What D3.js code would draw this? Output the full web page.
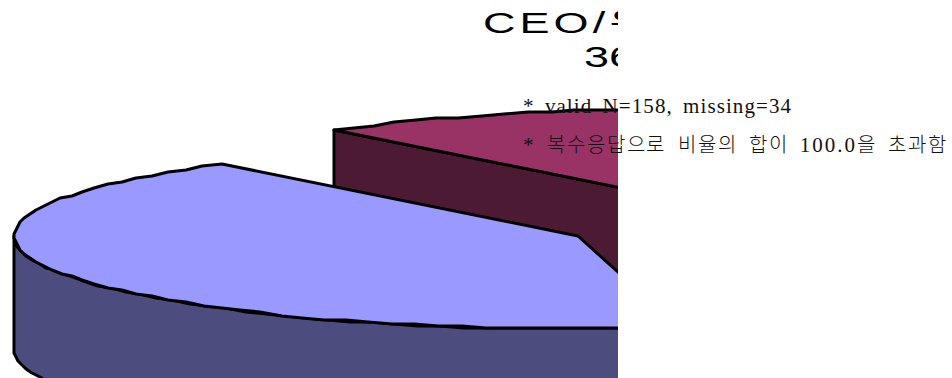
<!DOCTYPE html>
<html>
<head>
<meta charset="utf-8">
<script src="https://cdn.jsdelivr.net/npm/d3@7"></script>
<style>
html, body { margin: 0; padding: 0; background: #fff; }
svg { display: block; }
/* hangul runs a bit smaller than the latin next to them, as in the picture */
@font-face {
    font-family: "NoteHangul";
    src: local("Noto Sans CJK KR Light"), local("Noto Sans CJK KR");
    size-adjust: 95%;
    unicode-range: U+AC00-D7A3;
}
</style>
</head>
<body>
<svg id="chart" width="952" height="378"></svg>
<script>
// shares, the rest of the pie is cut away in the reference
var sliceNames = ["blue", "maroon"];
var sliceValues = [42.0, 20.0];
var sliceTop = ["#9999ff", "#993366"];
var sliceWall = ["#4c4c7f", "#4d1a33"];
var titleLines = ["CEO/위원회", "36.1%"];
var notes = ["* valid N=158, missing=34", "* 복수응답으로 비율의 합이 100.0을 초과함"];
var noteWidths = [268, 423];

var width = 952, height = 378, clipX = 618;
var rx = 564, ry = 93, depth = 113, grid = 2;
var centers = [[578, 236], [691, 202]];

var svg = d3.select("#chart");

svg.append("clipPath").attr("id", "crop")
    .append("rect").attr("width", clipX).attr("height", height);

var pie = d3.pie().sort(null)
    .startAngle(169.6 * Math.PI / 180)
    .endAngle((169.6 + 360) * Math.PI / 180)
    .value(function(d) { return d; });
var arcs = pie(sliceValues.concat([100 - d3.sum(sliceValues)]));

function rimPoint(a, c) {
    return [
        Math.round((c[0] + rx * Math.sin(a)) / grid) * grid,
        Math.round((c[1] - ry * Math.cos(a)) / grid) * grid
    ];
}

// rim between two angles, sampled coarse and snapped so it has the stepped look of the original
function rimPoints(a0, a1, c) {
    var n = Math.ceil((a1 - a0) / (2.5 * Math.PI / 180));
    return d3.range(n + 1).map(function(i) {
        return rimPoint(a0 + (a1 - a0) * i / n, c);
    });
}

function drop(p) {
    return [p[0], p[1] + depth];
}

var line = d3.line();
var pieGroup = svg.append("g").attr("clip-path", "url(#crop)");

function drawShape(g, pts, fill) {
    g.append("path")
        .attr("d", line(pts) + "Z")
        .attr("fill", fill)
        .attr("stroke", "#000")
        .attr("stroke-width", 3)
        .attr("stroke-linejoin", "round");
}

// back slice first, the blue one overlaps it
var maroon = pieGroup.append("g").attr("class", sliceNames[1]);
var maroonRim = rimPoints(arcs[1].startAngle, arcs[1].endAngle, centers[1]);
drawShape(maroon, [centers[1], maroonRim[0], drop(maroonRim[0]), drop(centers[1])], sliceWall[1]);
drawShape(maroon, [centers[1]].concat(maroonRim), sliceTop[1]);

// blue one shows its rim wall only on the front part, up to the left tip
var blue = pieGroup.append("g").attr("class", sliceNames[0]);
var frontRim = rimPoints(arcs[0].startAngle, 1.5 * Math.PI, centers[0]);
drawShape(blue, frontRim.concat(frontRim.slice().reverse().map(drop)), sliceWall[0]);
var blueRim = rimPoints(arcs[0].startAngle, arcs[0].endAngle, centers[0]);
drawShape(blue, [centers[0]].concat(blueRim), sliceTop[0]);

// title, wide face cut off at the same edge as the pie
var titleGroup = svg.append("g").attr("clip-path", "url(#crop)");
titleGroup.selectAll("text").data(titleLines).enter().append("text")
    .attr("transform", function(d, i) {
        return i === 0 ? "translate(483,33) scale(1.5,1)" : "translate(584,67) scale(1.5,1)";
    })
    .style("font-family", "'Liberation Sans', 'Noto Sans CJK KR', sans-serif")
    .style("font-size", "30px")
    .style("letter-spacing", function(d, i) { return i === 0 ? "2.7px" : "0px"; })
    .attr("fill", "#000")
    .text(function(d) { return d; });

svg.selectAll("text.note").data(notes).enter().append("text")
    .attr("class", "note")
    .attr("x", 523)
    .attr("y", function(d, i) { return 112.5 + i * 39; })
    .attr("textLength", function(d, i) { return noteWidths[i]; })
    .attr("lengthAdjust", "spacing")
    .style("font-family", "NoteHangul, 'Liberation Serif', 'Noto Sans CJK KR', serif")
    .style("font-size", "21px")
    .style("word-spacing", "4px")
    .attr("fill", "#111")
    .text(function(d) { return d; });
</script>
</body>
</html>
